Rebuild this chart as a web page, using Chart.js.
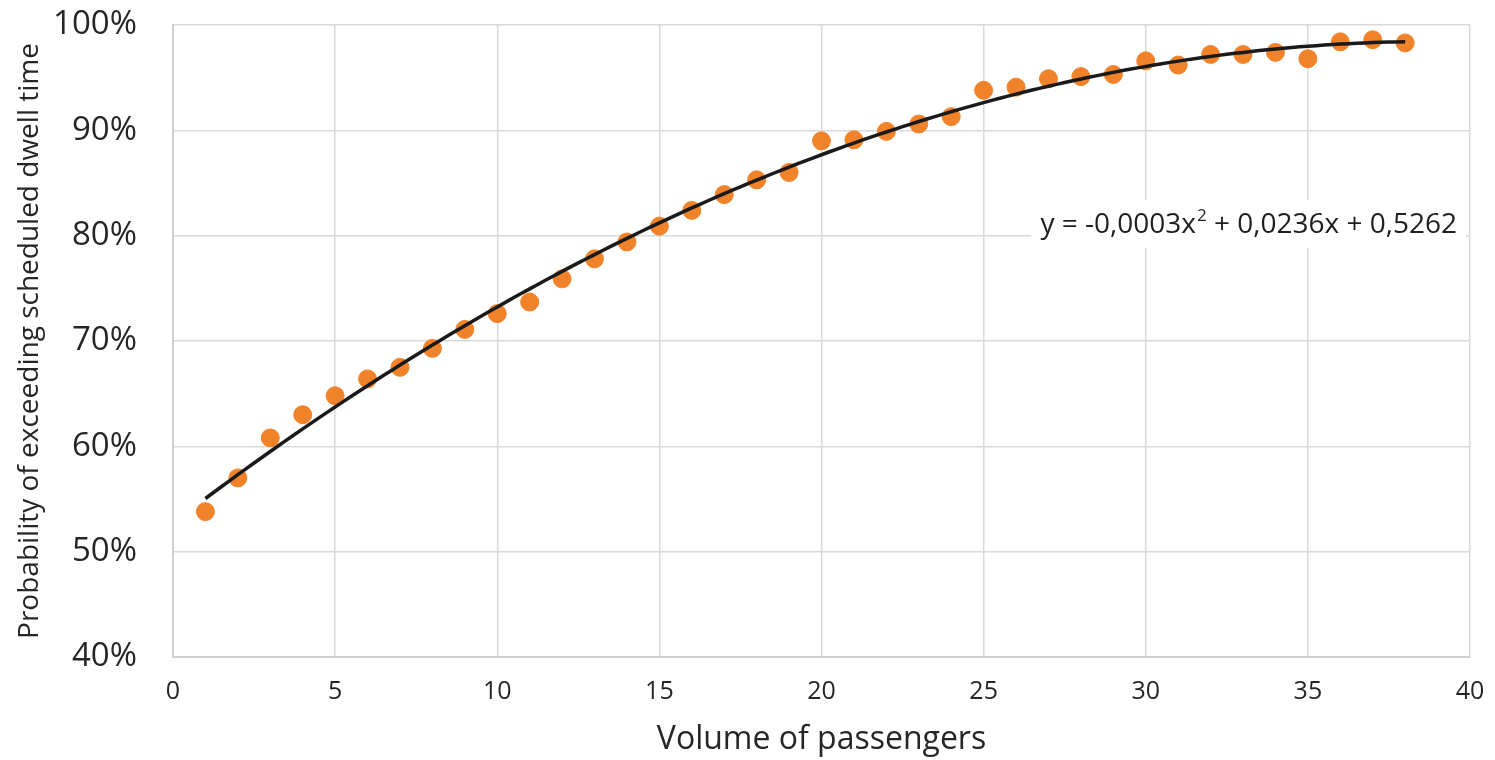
<!DOCTYPE html>
<html>
<head>
<meta charset="utf-8">
<script src="https://cdn.jsdelivr.net/npm/chart.js@4.4.0/dist/chart.umd.min.js"></script>
<style>
  html, body { margin: 0; padding: 0; background: #fff; }
  #wrap { width: 1495px; height: 760px; }
</style>
</head>
<body>
<div id="wrap"><canvas id="dwellChart" width="1495" height="760"></canvas></div>
<script>
// passengers on board vs. probability of exceeding scheduled dwell time
const passengers = [1, 2, 3, 4, 5, 6, 7, 8, 9, 10, 11, 12, 13, 14, 15, 16, 17, 18, 19, 20,
    21, 22, 23, 24, 25, 26, 27, 28, 29, 30, 31, 32, 33, 34, 35, 36, 37, 38];
const probability = [0.538, 0.570, 0.608, 0.630, 0.648, 0.664, 0.675, 0.693, 0.711, 0.726,
    0.737, 0.759, 0.778, 0.794, 0.809, 0.824, 0.839, 0.853, 0.860, 0.890,
    0.891, 0.899, 0.906, 0.913, 0.938, 0.941, 0.949, 0.951, 0.953, 0.966,
    0.962, 0.972, 0.972, 0.974, 0.968, 0.984, 0.986, 0.983];
const xTicks = [0, 5, 10, 15, 20, 25, 30, 35, 40];
const yTicks = [0.4, 0.5, 0.6, 0.7, 0.8, 0.9, 1.0];
const equation = ['y = -0,0003x', '2', ' + 0,0236x + 0,5262'];

const FONT = '"Open Sans", "Noto Sans", sans-serif';

// polynomial (order 2) trendline, least squares like Excel does it
function quadFit(xs, ys) {
    let s = [0, 0, 0, 0, 0], t = [0, 0, 0];
    xs.forEach((x, i) => {
        for (let k = 0; k < 5; k++) s[k] += Math.pow(x, k);
        for (let k = 0; k < 3; k++) t[k] += Math.pow(x, k) * ys[i];
    });
    const m = [[s[0], s[1], s[2], t[0]], [s[1], s[2], s[3], t[1]], [s[2], s[3], s[4], t[2]]];
    for (let c = 0; c < 3; c++) {
        for (let r = c + 1; r < 3; r++) {
            const f = m[r][c] / m[c][c];
            for (let k = c; k < 4; k++) m[r][k] -= f * m[c][k];
        }
    }
    const b = [0, 0, 0];
    for (let r = 2; r >= 0; r--) {
        let v = m[r][3];
        for (let k = r + 1; k < 3; k++) v -= m[r][k] * b[k];
        b[r] = v / m[r][r];
    }
    return b; // c0, c1, c2
}

const coef = quadFit(passengers, probability);
const trend = [];
for (let x = passengers[0]; x <= passengers[passengers.length - 1] + 1e-9; x += 0.25) {
    trend.push({ x: x, y: coef[0] + coef[1] * x + coef[2] * x * x });
}

const equationLabel = {
    id: 'equationLabel',
    afterDatasetsDraw(chart) {
        const {ctx, chartArea} = chart;
        ctx.save();
        const big = '28px ' + FONT, small = '17px ' + FONT;
        ctx.font = big;
        const w1 = ctx.measureText(equation[0]).width;
        const w3 = ctx.measureText(equation[2]).width;
        ctx.font = small;
        const w2 = ctx.measureText(equation[1]).width + 1;
        const total = w1 + w2 + w3;
        const right = chartArea.right - 13;
        const base = chartArea.top + 208;
        const left = right - total;
        ctx.fillStyle = '#ffffff';
        ctx.fillRect(left - 9, chartArea.top + 175, total + 18, 48);
        ctx.fillStyle = '#1f1f1f';
        ctx.textBaseline = 'alphabetic';
        ctx.textAlign = 'left';
        ctx.font = big;
        ctx.fillText(equation[0], left, base);
        ctx.font = small;
        ctx.fillText(equation[1], left + w1 + 1, base - 12);
        ctx.font = big;
        ctx.fillText(equation[2], left + w1 + w2, base);
        ctx.restore();
    }
};

new Chart(document.getElementById('dwellChart'), {
    type: 'scatter',
    data: {
        datasets: [{
            label: 'Probability',
            data: passengers.map((x, i) => ({ x: x, y: probability[i] })),
            backgroundColor: '#f0832a',
            borderColor: '#f0832a',
            pointRadius: 9,
            pointHoverRadius: 9,
            order: 2
        }, {
            type: 'line',
            label: 'Poly. (Probability)',
            data: trend,
            borderColor: '#1a1a1a',
            borderWidth: 3.5,
            pointRadius: 0,
            fill: false,
            tension: 0,
            order: 1
        }]
    },
    options: {
        responsive: false,
        animation: false,
        layout: { padding: { top: 25, right: 25, left: 0, bottom: 0 } },
        plugins: {
            legend: { display: false },
            tooltip: { enabled: false }
        },
        scales: {
            x: {
                type: 'linear',
                min: 0,
                max: 40,
                afterBuildTicks: (scale) => { scale.ticks = xTicks.map(v => ({ value: v })); },
                afterFit: (scale) => {
                    scale.height = 103;
                    scale.paddingLeft = 0;
                    scale.paddingRight = 0;
                },
                grid: { color: '#d9d9d9', lineWidth: 1.5, drawTicks: false },
                border: { color: '#d0d0d0', width: 2 },
                ticks: { padding: 20, color: '#262626', font: { family: FONT, size: 25 } },
                title: {
                    display: true,
                    text: 'Volume of passengers',
                    color: '#262626',
                    font: { family: FONT, size: 32, lineHeight: 1 },
                    padding: { top: 0, bottom: 4 }
                }
            },
            y: {
                min: 0.4,
                max: 1.0,
                afterBuildTicks: (scale) => { scale.ticks = yTicks.map(v => ({ value: v })); },
                afterFit: (scale) => {
                    scale.width = 173;
                    scale.paddingTop = 0;
                    scale.paddingBottom = 0;
                },
                grid: { color: '#d9d9d9', lineWidth: 1.5, drawTicks: false },
                border: { color: '#d0d0d0', width: 2 },
                ticks: {
                    padding: 36,
                    color: '#262626',
                    font: { family: FONT, size: 33, lineHeight: 1.2 },
                    callback: (v) => Math.round(v * 100) + '%'
                },
                title: {
                    display: true,
                    text: 'Probability of exceeding scheduled dwell time',
                    color: '#262626',
                    font: { family: FONT, size: 28, lineHeight: 1 },
                    padding: { top: 16, bottom: 0 }
                }
            }
        }
    },
    plugins: [equationLabel]
});
</script>
</body>
</html>
